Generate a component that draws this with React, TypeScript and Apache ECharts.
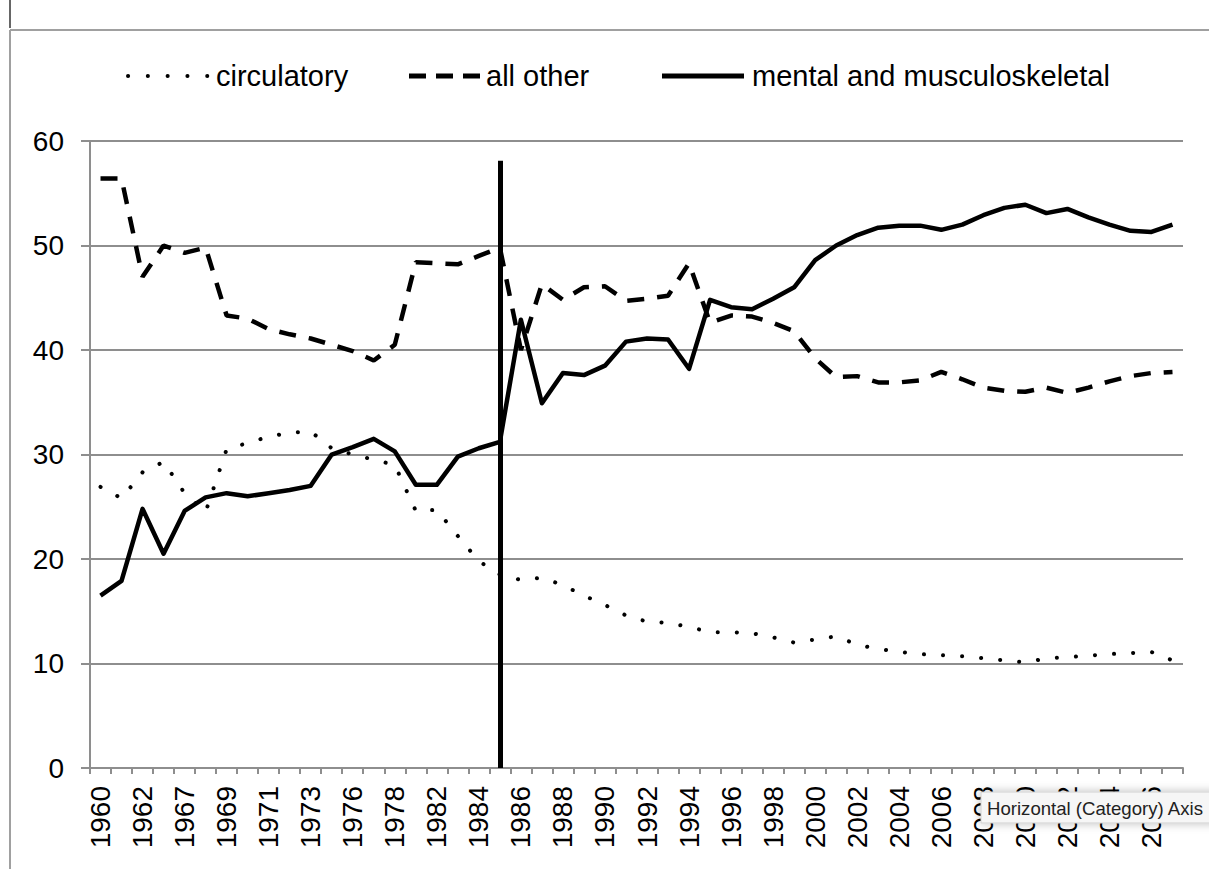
import React, { useEffect, useRef } from "react";
import * as echarts from "echarts";

const years: string[] = [
  "1960", "1961", "1962", "1965", "1967", "1968", "1969", "1970", "1971", "1972",
  "1973", "1975", "1976", "1977", "1978", "1980", "1982", "1983", "1984", "1985",
  "1986", "1987", "1988", "1989", "1990", "1991", "1992", "1993", "1994", "1995",
  "1996", "1997", "1998", "1999", "2000", "2001", "2002", "2003", "2004", "2005",
  "2006", "2007", "2008", "2009", "2010", "2011", "2012", "2013", "2014", "2015",
  "2016", "2017",
];

const circulatory: number[] = [
  26.9, 25.8, 28.3, 29.3, 26.3, 24.5, 30.5, 31.1, 31.7, 32.1,
  32.2, 30.6, 30.0, 29.5, 29.0, 24.6, 24.7, 22.2, 19.8, 18.5,
  18.0, 18.2, 17.5, 16.5, 15.6, 14.6, 14.0, 13.9, 13.5, 13.0,
  13.0, 12.9, 12.5, 12.0, 12.3, 12.6, 11.8, 11.4, 11.1, 10.9,
  10.8, 10.7, 10.5, 10.3, 10.1, 10.5, 10.6, 10.75, 10.9, 11.0,
  11.1, 10.3,
];

const allOther: number[] = [
  56.4, 56.4, 47.0, 50.0, 49.3, 49.8, 43.3, 43.0, 42.0, 41.5,
  41.1, 40.5, 39.9, 39.0, 40.5, 48.4, 48.3, 48.2, 49.0, 49.8,
  40.0, 46.3, 44.8, 46.0, 46.1, 44.7, 44.9, 45.2, 48.3, 42.6,
  43.3, 43.2, 42.6, 41.8, 39.2, 37.4, 37.5, 36.9, 36.9, 37.1,
  37.9, 37.2, 36.4, 36.1, 36.0, 36.4, 35.9, 36.4, 37.0, 37.5,
  37.8, 37.9,
];

const mental: number[] = [
  16.5, 17.9, 24.8, 20.5, 24.6, 25.9, 26.3, 26.0, 26.3, 26.6,
  27.0, 30.0, 30.7, 31.5, 30.3, 27.1, 27.1, 29.8, 30.6, 31.2,
  42.9, 34.9, 37.8, 37.6, 38.5, 40.8, 41.1, 41.0, 38.2, 44.8,
  44.1, 43.9, 44.9, 46.0, 48.6, 50.0, 51.0, 51.7, 51.9, 51.9,
  51.5, 52.0, 52.9, 53.6, 53.9, 53.1, 53.5, 52.7, 52.0, 51.4,
  51.3, 52.0,
];

const seriesNames: string[] = ["circulatory", "all other", "mental and musculoskeletal"];
const markerYear = "1985";
const markerTop = 58.1;
const tooltipText = "Horizontal (Category) Axis";

const FONT = "'Liberation Sans', Arial, sans-serif";
const GRID = "#8e8e8e";

export default function App() {
  const ref = useRef<HTMLDivElement>(null);

  useEffect(() => {
    if (!ref.current) return;
    const chart = echarts.init(ref.current, undefined, { renderer: "svg" });
    chart.setOption({
      animation: false,
      backgroundColor: "#ffffff",
      grid: { left: 90, right: 26, top: 141, bottom: 101, containLabel: false },
      xAxis: {
        type: "category",
        data: years,
        boundaryGap: true,
        axisLine: { show: true, lineStyle: { color: GRID, width: 2 } },
        axisTick: { show: true, interval: 0, length: 6, lineStyle: { color: GRID, width: 2 } },
        axisLabel: {
          interval: 1,
          rotate: 90,
          margin: 18,
          color: "#000",
          fontSize: 28,
          fontFamily: FONT,
        },
        splitLine: { show: false },
      },
      yAxis: {
        type: "value",
        min: 0,
        max: 60,
        interval: 10,
        axisLine: { show: true, lineStyle: { color: GRID, width: 2 } },
        axisTick: { show: true, length: 9, lineStyle: { color: GRID, width: 2 } },
        axisLabel: { color: "#000", fontSize: 28, fontFamily: FONT, margin: 26 },
        splitLine: { show: true, lineStyle: { color: GRID, width: 2 } },
      },
      series: [
        {
          name: seriesNames[0],
          type: "line",
          data: circulatory,
          symbol: "none",
          z: 3,
          lineStyle: { color: "#000", width: 4, type: [0.1, 19], cap: "round" },
        },
        {
          name: seriesNames[1],
          type: "line",
          data: allOther,
          symbol: "none",
          z: 3,
          lineStyle: { color: "#000", width: 4.5, type: [17, 13], cap: "butt" },
        },
        {
          name: seriesNames[2],
          type: "line",
          data: mental,
          symbol: "none",
          z: 4,
          lineStyle: { color: "#000", width: 4.5, type: "solid", join: "round" },
          markLine: {
            silent: true,
            symbol: ["none", "none"],
            label: { show: false },
            lineStyle: { color: "#000", width: 5, type: "solid" },
            data: [[{ coord: [markerYear, 0] }, { coord: [markerYear, markerTop] }]],
          },
        },
      ],
      graphic: [
        { type: "line", shape: { x1: 10, y1: 0, x2: 10, y2: 28 }, style: { stroke: "#333", lineWidth: 1.5 } },
        { type: "line", shape: { x1: 10, y1: 30, x2: 1209, y2: 30 }, style: { stroke: "#a0a0a0", lineWidth: 2 } },
        { type: "line", shape: { x1: 10, y1: 30, x2: 10, y2: 869 }, style: { stroke: "#a0a0a0", lineWidth: 2 } },
        // legend
        {
          type: "line",
          shape: { x1: 128, y1: 76, x2: 210, y2: 76 },
          style: { stroke: "#000", lineWidth: 4, lineDash: [0.1, 19.7], lineCap: "round" },
        },
        {
          type: "text", x: 216, y: 76,
          style: { text: seriesNames[0], fill: "#000", font: `29px ${FONT}`, verticalAlign: "middle", align: "left" },
        },
        {
          type: "line",
          shape: { x1: 409, y1: 76, x2: 480, y2: 76 },
          style: { stroke: "#000", lineWidth: 5, lineDash: [17, 10] },
        },
        {
          type: "text", x: 486, y: 76,
          style: { text: seriesNames[1], fill: "#000", font: `29px ${FONT}`, verticalAlign: "middle", align: "left" },
        },
        {
          type: "line",
          shape: { x1: 662, y1: 76, x2: 744, y2: 76 },
          style: { stroke: "#000", lineWidth: 5 },
        },
        {
          type: "text", x: 752, y: 76,
          style: { text: seriesNames[2], fill: "#000", font: `29px ${FONT}`, verticalAlign: "middle", align: "left" },
        },
        // tooltip overlay
        {
          type: "rect",
          z: 100,
          shape: { x: 981, y: 792, width: 240, height: 31 },
          style: { fill: "#f6f6f6", stroke: "#d0d0d0", lineWidth: 1, shadowBlur: 10, shadowColor: "rgba(0,0,0,0.25)" },
        },
        {
          type: "text", z: 101, x: 987, y: 808,
          style: { text: tooltipText, fill: "#222", font: `18.6px ${FONT}`, verticalAlign: "middle", align: "left" },
        },
      ],
    });
    return () => chart.dispose();
  }, []);

  return (
    <div
      ref={ref}
      style={{ position: "absolute", left: 0, top: 0, width: 1209, height: 869, background: "#fff" }}
    />
  );
}
